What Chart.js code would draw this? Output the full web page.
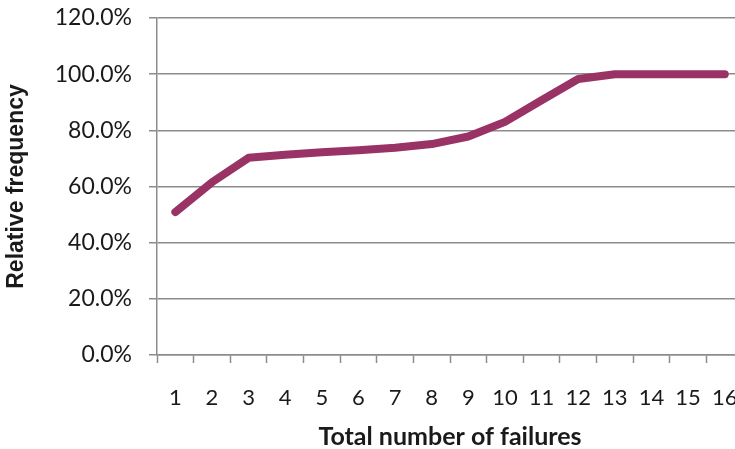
<!DOCTYPE html>
<html>
<head>
<meta charset="utf-8">
<script src="https://cdn.jsdelivr.net/npm/chart.js@4"></script>
<style>
  html, body { margin: 0; padding: 0; background: #fff; overflow: hidden; }
  #wrap { width: 760px; height: 449px; }
</style>
</head>
<body>
<div id="wrap"><canvas id="chart" width="760" height="449"></canvas></div>
<script>
const failures = ['1', '2', '3', '4', '5', '6', '7', '8', '9', '10', '11', '12', '13', '14', '15', '16'];
const relFrequency = [50.9, 61.5, 70.2, 71.3, 72.2, 72.9, 73.8, 75.1, 77.8, 83.0, 90.7, 98.3, 100, 100, 100, 100];
const yTicks = [0, 20, 40, 60, 80, 100, 120];

const font = 'Lato, "Liberation Sans", sans-serif';
const gridGray = '#8c8c8c';
const textColor = '#1a1a1a';

new Chart(document.getElementById('chart'), {
  type: 'line',
  data: {
    labels: failures,
    datasets: [{
      data: relFrequency,
      borderColor: '#993366',
      borderWidth: 8,
      pointRadius: 0,
      borderCapStyle: 'round',
      borderJoinStyle: 'round',
      tension: 0,
      fill: false
    }]
  },
  options: {
    responsive: false,
    animation: false,
    layout: { padding: { top: 18, right: 16, left: 0, bottom: 0 } },
    plugins: {
      legend: { display: false },
      tooltip: { enabled: false }
    },
    scales: {
      x: {
        type: 'category',
        offset: true,
        grid: {
          offset: true,
          drawOnChartArea: false,
          drawTicks: true,
          tickLength: 8,
          tickColor: gridGray,
          tickWidth: 1.5
        },
        border: { color: gridGray, width: 1.5 },
        ticks: {
          color: textColor,
          font: { family: font, size: 22 },
          padding: 22,
          maxRotation: 0,
          autoSkip: false
        },
        title: {
          display: true,
          text: 'Total number of failures',
          color: textColor,
          font: { family: font, size: 25, weight: 'bold', lineHeight: 1 },
          padding: { top: 0, bottom: 0 }
        },
        afterFit(scale) { scale.height = 94; }
      },
      y: {
        min: 0,
        max: 120,
        afterBuildTicks(scale) { scale.ticks = yTicks.map(v => ({ value: v })); },
        grid: {
          color: gridGray,
          lineWidth: 1.5,
          drawTicks: true,
          tickLength: 8,
          tickColor: gridGray
        },
        border: { color: gridGray, width: 1.5 },
        ticks: {
          color: textColor,
          font: { family: font, size: 23 },
          padding: 17,
          callback: v => v.toFixed(1) + '%'
        },
        title: {
          display: true,
          text: 'Relative frequency',
          color: textColor,
          font: { family: '"Liberation Sans", Arial, sans-serif', size: 23, weight: 'bold' },
          padding: { top: 3, bottom: 0 }
        },
        afterFit(scale) {
          // fixed axis width; the plot top/bottom come from the layout padding only
          scale.width = 157;
          scale.paddingTop = 0;
          scale.paddingBottom = 0;
        }
      }
    }
  }
});
</script>
</body>
</html>
